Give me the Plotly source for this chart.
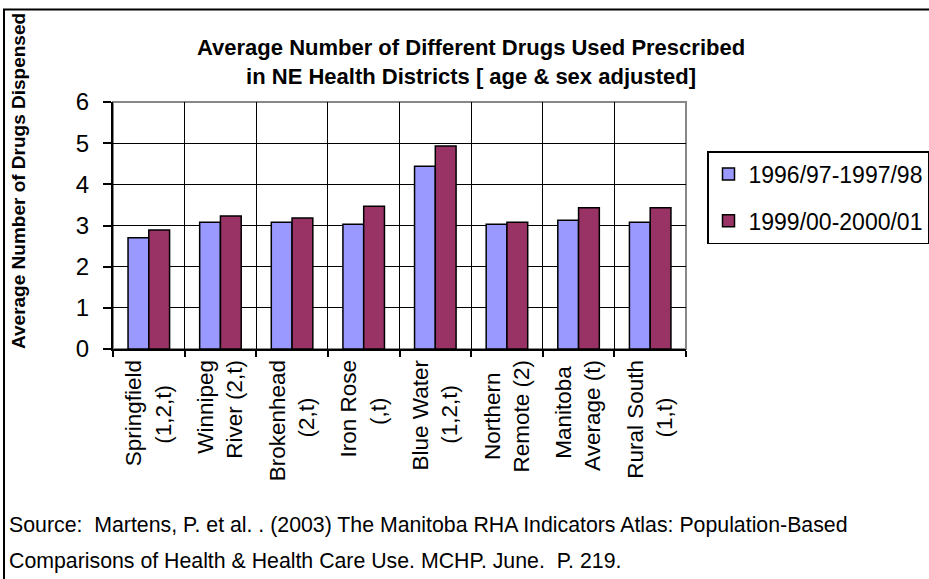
import plotly.graph_objects as go

category_lines = [
    ("Springfield", "(1,2,t)"),
    ("Winnipeg", "River (2,t)"),
    ("Brokenhead", "(2,t)"),
    ("Iron Rose", "(,t)"),
    ("Blue Water", "(1,2,t)"),
    ("Northern", "Remote (2)"),
    ("Manitoba", "Average (t)"),
    ("Rural South", "(1,t)"),
]
series_names = ["1996/97-1997/98", "1999/00-2000/01"]
values_1996 = [2.70, 3.08, 3.08, 3.03, 4.44, 3.03, 3.13, 3.08]
values_1999 = [2.89, 3.23, 3.18, 3.47, 4.93, 3.08, 3.43, 3.43]
colors = ["#9999FF", "#993366"]
y_ticks = [0, 1, 2, 3, 4, 5, 6]

title_lines = ["Average Number of Different Drugs Used Prescribed",
               "in NE Health Districts [ age & sex adjusted]"]
y_title = "Average Number of Drugs Dispensed"
source_lines = ["Source:  Martens, P. et al. . (2003) The Manitoba RHA Indicators Atlas: Population-Based",
                "Comparisons of Health & Health Care Use. MCHP. June.  P. 219."]

FONT = "Liberation Sans, Arial, sans-serif"

# approximate Arial advance widths (em) used to centre the two label lines
CW = {' ': 0.278, '(': 0.333, ')': 0.333, ',': 0.278, '1': 0.556, '2': 0.556,
      'a': 0.556, 'b': 0.556, 'c': 0.5, 'd': 0.556, 'e': 0.556, 'f': 0.278,
      'g': 0.556, 'h': 0.556, 'i': 0.222, 'k': 0.5, 'l': 0.222, 'm': 0.833,
      'n': 0.556, 'o': 0.556, 'p': 0.556, 'r': 0.333, 's': 0.5, 't': 0.278,
      'u': 0.556, 'v': 0.5, 'w': 0.722, 'A': 0.667, 'B': 0.667, 'I': 0.278,
      'M': 0.833, 'N': 0.722, 'R': 0.722, 'S': 0.667, 'W': 0.944}


def tw(s):
    return sum(CW.get(c, 0.556) for c in s)


def centred(a, b):
    wa, wb = tw(a), tw(b)
    n = int(round(abs(wa - wb) / 2 / 0.278))
    pad = "\u00a0" * n
    if wa > wb:
        b = b + pad
    else:
        a = a + pad
    return a + "<br>" + b


categories = [centred(a, b) for a, b in category_lines]

W, H = 929, 579
L, R, T, B = 113, 243, 102, 230
pw, ph = W - L - R, H - T - B


def px_x(x):
    return (x - L) / pw


def px_y(y):
    return (H - B - y) / ph


fig = go.Figure()
for name, vals, col in zip(series_names, [values_1996, values_1999], colors):
    fig.add_trace(go.Bar(
        x=categories, y=vals, name=name, legendgroup=name,
        marker=dict(color=col, line=dict(color="black", width=1.5)),
    ))

annotations = [
    dict(text="<b>" + title_lines[0] + "</b><br><b>" + title_lines[1] + "</b>",
         xref="paper", yref="paper", x=px_x(471), y=px_y(62),
         xanchor="center", yanchor="middle", showarrow=False,
         font=dict(size=22, family=FONT)),
    dict(text="<b>" + y_title + "</b>", textangle=-90,
         xref="paper", yref="paper", x=px_x(18), y=px_y(181),
         xanchor="center", yanchor="middle", showarrow=False,
         font=dict(size=19, family=FONT)),
]
for line, yy in zip(source_lines, [525, 561]):
    annotations.append(dict(
        text=line, xref="paper", yref="paper", x=px_x(7), y=px_y(yy),
        xanchor="left", yanchor="middle", showarrow=False,
        font=dict(size=21.3, family=FONT)))

fig.update_layout(
    width=W, height=H,
    margin=dict(l=L, r=R, t=T, b=B, autoexpand=False),
    paper_bgcolor="white", plot_bgcolor="white",
    font=dict(family=FONT, color="black", size=22),
    barmode="group", bargap=0.42, bargroupgap=0,
    showlegend=True,
    legend=dict(
        x=px_x(707), y=px_y(151), xanchor="left", yanchor="top",
        bgcolor="white", bordercolor="black", borderwidth=1.5,
        font=dict(size=23, family=FONT),
        traceorder="grouped", tracegroupgap=14,
        itemwidth=30,
    ),
    xaxis=dict(
        type="category", tickangle=-90, tickson="boundaries",
        showgrid=True, gridcolor="black", gridwidth=1.2,
        showline=True, linecolor="black", linewidth=2,
        ticks="outside", ticklen=6, tickcolor="black", tickwidth=1.5,
        tickfont=dict(size=22.5, family=FONT),
    ),
    yaxis=dict(
        range=[0, 6], tickvals=y_ticks,
        showgrid=True, gridcolor="black", gridwidth=1.2,
        showline=True, linecolor="black", linewidth=2,
        ticks="outside", ticklen=8, tickcolor="black", tickwidth=1.5,
        tickfont=dict(size=24, family=FONT), ticklabelstandoff=9,
        zeroline=False,
    ),
    shapes=[
        dict(type="rect", xref="paper", yref="paper", x0=0, x1=1, y0=0, y1=1,
             line=dict(color="#888888", width=2), layer="below"),
        dict(type="rect", xref="paper", yref="paper",
             x0=px_x(4), x1=px_x(940), y0=px_y(9.5), y1=px_y(600),
             line=dict(color="black", width=2), layer="above"),
    ],
    annotations=annotations,
)

fig.write_html("out.html")
